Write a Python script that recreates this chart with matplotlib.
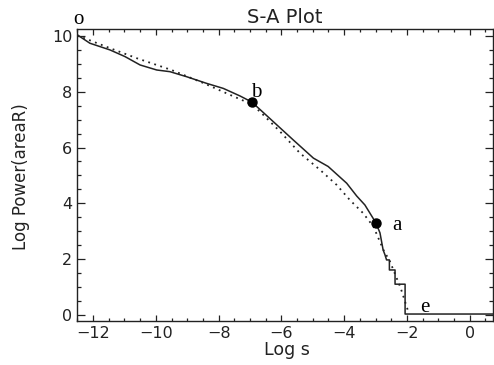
import numpy as np
import matplotlib
matplotlib.use('Agg')
from matplotlib import pyplot as plt
from matplotlib.ticker import MultipleLocator

# S-A 곡선 (실선: 측정값, 점선: 근사 곡선)
log_s = [-12.5, -12.1, -11.46, -10.98, -10.5, -9.97, -9.55, -9.02, -8.38, -7.85,
         -7.32, -6.94, -6.26, -5.62, -4.98, -4.51, -3.92, -3.60, -3.34, -2.99,
         -2.86, -2.76, -2.70, -2.65, -2.56, -2.56, -2.38, -2.38, -2.06, -2.06, 0.74]
log_power = [10.04, 9.74, 9.50, 9.26, 8.96, 8.78, 8.72, 8.54, 8.30, 8.12,
             7.85, 7.63, 6.93, 6.27, 5.62, 5.32, 4.72, 4.26, 3.94, 3.30,
             2.94, 2.33, 2.15, 1.97, 1.97, 1.61, 1.61, 1.10, 1.10, 0.03, 0.03]

fit_s = [-12.5, -11.5, -10.6, -9.5, -8.5, -7.64, -6.94, -6.63, -6.04, -5.41,
         -4.77, -4.24, -3.82, -3.4, -3.07, -2.75, -2.54, -2.20, -1.96]
fit_power = [10.02, 9.58, 9.20, 8.78, 8.32, 7.89, 7.55, 7.23, 6.57, 5.80,
             5.20, 4.66, 4.12, 3.65, 3.17, 2.33, 1.91, 0.96, 0.12]

# 표시점 b, a
pt_s = [-6.94, -2.99]
pt_power = [7.63, 3.30]

# 글자 표시 (o, b, a, e)
mark_text = ['o', 'b', 'a', 'e']
mark_s = [-12.48, -6.81, -2.33, -1.44]
mark_power = [10.42, 7.81, 3.05, 0.1]

fig = plt.figure(figsize=(4.94, 3.65), dpi=100)
ax = fig.add_axes([77/494, 1 - 321/365, 416/494, 292/365])

ax.plot(log_s, log_power, color='#222222', lw=1.1)
ax.plot(fit_s, fit_power, color='#222222', lw=1.3, linestyle=(0, (1, 2.5)))
ax.plot(pt_s, pt_power, 'o', color='black', markersize=6.5)

for t, xs, yp in zip(mark_text, mark_s, mark_power):
    ax.text(xs, yp, t, family='Liberation Serif', fontsize=15, ha='center',
            va='baseline', clip_on=False)

ax.set_xlim(-12.51, 0.74)
ax.set_ylim(-0.22, 10.25)
ax.xaxis.set_major_locator(MultipleLocator(2))
ax.xaxis.set_minor_locator(MultipleLocator(0.5))
ax.yaxis.set_major_locator(MultipleLocator(2))
ax.yaxis.set_minor_locator(MultipleLocator(0.5))
ax.tick_params(axis='both', which='both', direction='in', top=True, right=True,
               width=0.9, colors='#222222', labelsize=11.5)
ax.tick_params(axis='x', which='major', length=4.5, pad=3.5)
ax.tick_params(axis='x', which='minor', length=2.5)
ax.tick_params(axis='y', which='major', length=6, pad=3.5)
ax.tick_params(axis='y', which='minor', length=3)
for sp in ax.spines.values():
    sp.set_linewidth(1.0)
    sp.set_color('#222222')

ax.set_title('S-A Plot', fontsize=14, pad=4, color='#222222')
ax.set_xlabel('Log s', fontsize=12.5, color='#222222')
ax.set_ylabel('Log Power(areaR)', fontsize=12, color='#222222')
ax.xaxis.set_label_coords(0.505, -0.068)
ax.yaxis.set_label_coords(-0.113, 0.493)

plt.savefig('out.png', dpi=100)
